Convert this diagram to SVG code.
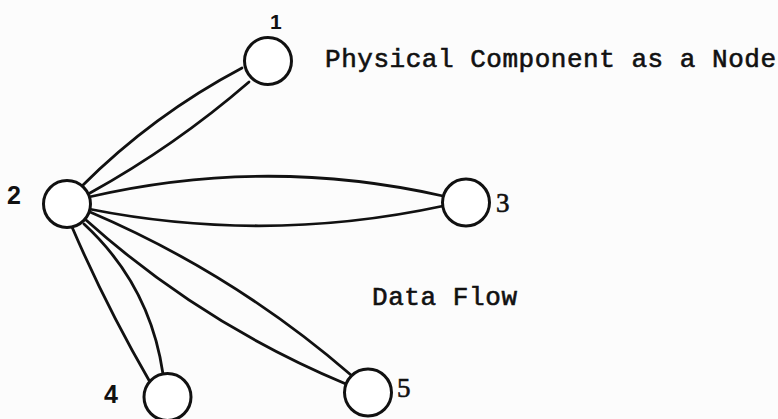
<svg xmlns="http://www.w3.org/2000/svg" width="778" height="419" viewBox="0 0 778 419">
  <style>
    .node { fill: #ffffff; stroke: #111111; stroke-width: 3; }
    .flow { fill: none; stroke: #111111; stroke-width: 2.8; stroke-linecap: round; }
    .num { font-family: "Liberation Sans", Arial, sans-serif; font-weight: bold; fill: #111111; }
    .num-serif { font-family: "Liberation Serif", "Times New Roman", serif; fill: #111111; stroke: #111111; stroke-width: 0.6; }
    .caption { font-family: "Liberation Mono", "Courier New", monospace; fill: #111111; stroke: #111111; stroke-width: 0.6; }
  </style>
  <rect x="0" y="0" width="778" height="419" fill="#fcfcfc"/>

  <!-- data flows: each pair of curves forms a lens between two nodes -->
  <g id="connectors">
    <path class="flow" d="M82,186 Q153,115 242,68"/>
    <path class="flow" d="M90,193 Q175,146 249,82"/>
    <path class="flow" d="M89,197 Q266,156 443,196"/>
    <path class="flow" d="M89,209 Q266,244 443,206"/>
    <path class="flow" d="M72,227 Q106,306 150,382"/>
    <path class="flow" d="M84,224 Q150,285 163,374"/>
    <path class="flow" d="M90,212 Q233,273 351,375"/>
    <path class="flow" d="M86,220 Q202,324 346,384"/>
  </g>

  <g id="node-1">
    <circle class="node" cx="268" cy="61" r="23.5"/>
    <text class="num" x="270" y="29" font-size="21">1</text>
  </g>
  <g id="node-2">
    <circle class="node" cx="67" cy="204" r="23.5"/>
    <text class="num" x="7" y="204" font-size="25">2</text>
  </g>
  <g id="node-3">
    <circle class="node" cx="466" cy="202.5" r="23.5"/>
    <text class="num-serif" x="496" y="212" font-size="27">3</text>
  </g>
  <g id="node-4">
    <circle class="node" cx="167.5" cy="397" r="23.5"/>
    <text class="num" x="104" y="403" font-size="25">4</text>
  </g>
  <g id="node-5">
    <circle class="node" cx="368" cy="392.5" r="23.5"/>
    <text class="num-serif" x="397" y="397" font-size="27">5</text>
  </g>

  <g id="labels">
    <text class="caption" x="325" y="67" font-size="26" textLength="451" lengthAdjust="spacing">Physical Component as a Node</text>
    <text class="caption" x="372" y="305" font-size="26" textLength="145" lengthAdjust="spacing">Data Flow</text>
  </g>
</svg>
